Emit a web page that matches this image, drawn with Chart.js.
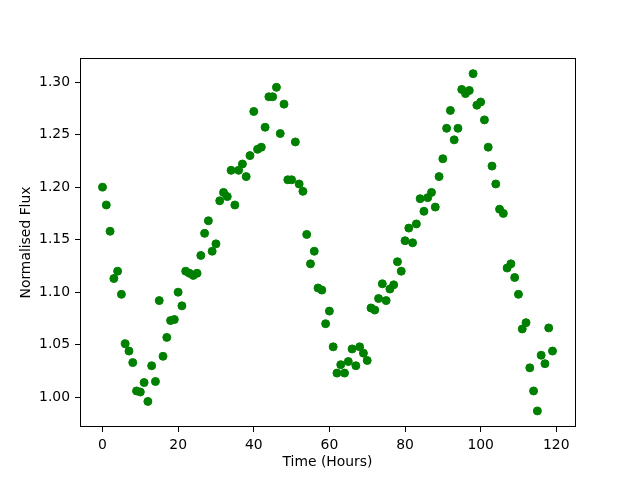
<!DOCTYPE html>
<html>
<head>
<meta charset="utf-8">
<script src="https://cdn.jsdelivr.net/npm/chart.js@4/dist/chart.umd.min.js"></script>
<style>
  html, body { margin: 0; padding: 0; background: #fff; }
  #wrap { width: 640px; height: 480px; }
</style>
</head>
<body>
<div id="wrap"><canvas id="canvas" width="640" height="480"></canvas></div>
<script>
// time of each sample, hours
var horas = [0,1,2,3,4,5,6,7,8,9,10,11,12,13,14,15,16,17,18,19,
  20,21,22,23,24,25,26,27,28,29,30,31,32,33,34,35,36,37,38,39,
  40,41,42,43,44,45,46,47,48,49,50,51,52,53,54,55,56,57,58,59,
  60,61,62,63,64,65,66,67,68,69,70,71,72,73,74,75,76,77,78,79,
  80,81,82,83,84,85,86,87,88,89,90,91,92,93,94,95,96,97,98,99,
  100,101,102,103,104,105,106,107,108,109,110,111,112,113,114,115,116,117,118,119];

// normalised flux
var flujo = [1.200,1.183,1.158,1.113,1.120,1.098,1.051,1.044,1.033,1.006,
  1.005,1.014,0.996,1.030,1.015,1.092,1.039,1.057,1.073,1.074,
  1.100,1.087,1.120,1.118,1.116,1.118,1.135,1.156,1.168,1.139,
  1.146,1.187,1.195,1.191,1.216,1.183,1.216,1.222,1.210,1.230,
  1.272,1.236,1.238,1.257,1.286,1.286,1.295,1.251,1.279,1.207,
  1.207,1.243,1.203,1.196,1.155,1.127,1.139,1.104,1.102,1.070,
  1.082,1.048,1.023,1.031,1.023,1.034,1.046,1.030,1.048,1.042,
  1.035,1.085,1.083,1.094,1.108,1.092,1.103,1.107,1.129,1.120,
  1.149,1.161,1.147,1.165,1.189,1.177,1.190,1.195,1.181,1.210,
  1.227,1.256,1.273,1.245,1.256,1.293,1.289,1.292,1.308,1.278,
  1.281,1.264,1.238,1.220,1.203,1.179,1.175,1.123,1.127,1.114,
  1.098,1.065,1.071,1.028,1.006,0.987,1.040,1.032,1.066,1.044];

var ticksX = [0, 20, 40, 60, 80, 100, 120];
var ticksY = [1.00, 1.05, 1.10, 1.15, 1.20, 1.25, 1.30];

Chart.defaults.font.family = "'DejaVu Sans', sans-serif";
Chart.defaults.font.size = 13.9;
Chart.defaults.color = '#000';

var puntos = horas.map((h, i) => ({ x: h, y: flujo[i] }));

// black box round the plot area, like matplotlib spines
const marco = {
  id: 'marco',
  afterDraw(chart) {
    const a = chart.chartArea;
    const c = chart.ctx;
    c.save();
    c.strokeStyle = '#000';
    c.lineWidth = 1;
    c.strokeRect(Math.round(a.left) + 0.5, Math.round(a.top) + 0.5,
      Math.round(a.right - a.left), Math.round(a.bottom - a.top) - 1);
    c.restore();
  }
};

var ctx = document.getElementById('canvas');
var myChart = new Chart(ctx, {
  type: 'scatter',
  data: {
    datasets: [{
      data: puntos,
      backgroundColor: 'green',
      borderColor: 'green',
      pointRadius: 4,
      pointBorderWidth: 1,
      showLine: false
    }]
  },
  options: {
    responsive: false,
    animation: false,
    layout: { padding: { top: 58, right: 65, left: 0, bottom: 0 } },
    plugins: { legend: { display: false }, tooltip: { enabled: false } },
    scales: {
      x: {
        type: 'linear',
        min: -5.95,
        max: 124.95,
        afterFit: (s) => { s.height = 53; },
        afterBuildTicks: (s) => { s.ticks = ticksX.map(v => ({ value: v })); },
        grid: { display: true, drawOnChartArea: false, drawTicks: true, tickLength: 5, color: '#000' },
        border: { display: false },
        ticks: { padding: 5, maxRotation: 0, callback: (v) => String(v) },
        title: { display: true, text: 'Time (Hours)', padding: { top: 0, bottom: 9 } }
      },
      y: {
        type: 'linear',
        min: 0.9717,
        max: 1.3229,
        afterFit: (s) => { s.width = 80; },
        afterBuildTicks: (s) => { s.ticks = ticksY.map(v => ({ value: v })); },
        grid: { display: true, drawOnChartArea: false, drawTicks: true, tickLength: 5, color: '#000' },
        border: { display: false },
        ticks: { padding: 5, callback: (v) => Number(v).toFixed(2) },
        title: { display: true, text: 'Normalised Flux', padding: { top: 18, bottom: 0 } }
      }
    }
  },
  plugins: [marco]
});
</script>
</body>
</html>
